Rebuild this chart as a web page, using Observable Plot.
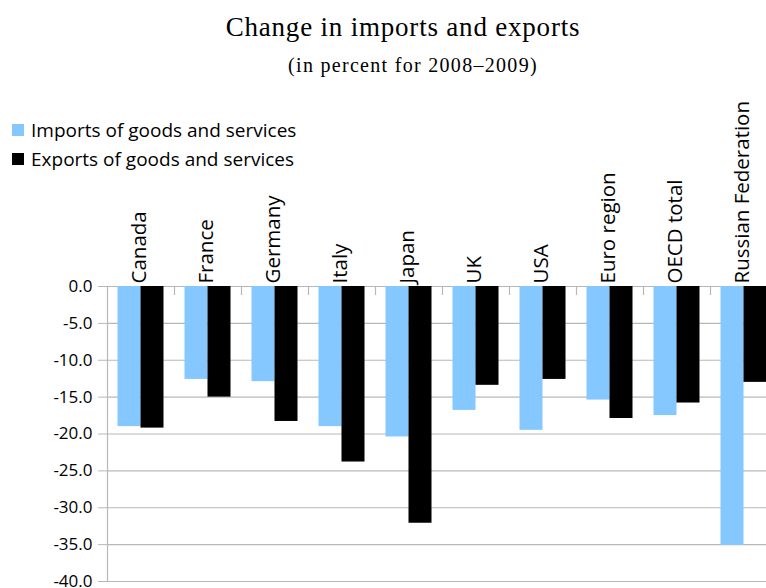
<!DOCTYPE html>
<html>
<head>
<meta charset="utf-8">
<script src="https://cdn.jsdelivr.net/npm/d3@7"></script>
<script src="https://cdn.jsdelivr.net/npm/@observablehq/plot@0.6"></script>
<style>
  html, body { margin: 0; padding: 0; background: #fff; overflow: hidden; }
  #wrap { position: relative; width: 766px; height: 588px; overflow: hidden; }
  .title { position: absolute; left: 0; width: 766px; text-align: center; font-family: "Liberation Serif", serif; color: #000; white-space: nowrap; box-sizing: border-box; }
  #t1 { top: 14px; font-size: 27px; line-height: 27px; letter-spacing: 0.8px; padding-left: 40px; }
  #t2 { top: 55px; font-size: 20px; line-height: 20px; letter-spacing: 1.3px; padding-left: 60px; }
  .leg { position: absolute; left: 12px; font-family: "Open Sans", sans-serif; font-size: 19px; line-height: 19px; color: #000; white-space: nowrap; }
  .leg .sw { position: absolute; left: 0; width: 12px; height: 12px; }
  .leg .lab { position: absolute; left: 19px; top: 0; }
  #chart { position: absolute; left: 0; top: 90px; }
  #chart svg { max-width: none !important; }
</style>
</head>
<body>
<div id="wrap">
  <div class="title" id="t1">Change in imports and exports</div>
  <div class="title" id="t2">(in percent for 2008–2009)</div>
  <div id="legend"></div>
  <div id="chart"></div>
</div>
<script>
const countries = ["Canada", "France", "Germany", "Italy", "Japan", "UK", "USA", "Euro region", "OECD total", "Russian Federation"];
const importsValues = [-19.0, -12.6, -12.9, -19.0, -20.4, -16.8, -19.5, -15.4, -17.5, -35.1];
const exportsValues = [-19.2, -15.0, -18.3, -23.8, -32.1, -13.4, -12.6, -17.9, -15.8, -13.0];
const yTicks = [0, -5, -10, -15, -20, -25, -30, -35, -40];
const seriesNames = ["Imports of goods and services", "Exports of goods and services"];
const seriesColors = ["#84c8ff", "#000000"];

const importsData = countries.map((c, i) => ({country: c, value: importsValues[i]}));
const exportsData = countries.map((c, i) => ({country: c, value: exportsValues[i]}));

// Legend
const legend = document.getElementById("legend");
const legTops = [121, 150];
seriesNames.forEach((name, i) => {
  const d = document.createElement("div");
  d.className = "leg";
  d.style.top = legTops[i] + "px";
  const sw = document.createElement("span");
  sw.className = "sw";
  sw.style.background = seriesColors[i];
  sw.style.top = "3px";
  const lab = document.createElement("span");
  lab.className = "lab";
  lab.textContent = name;
  d.appendChild(sw);
  d.appendChild(lab);
  legend.appendChild(d);
});

const grid = "#b8b8b8";
const chart = Plot.plot({
  width: 777,
  height: 498,
  marginTop: 196,
  marginBottom: 7,
  marginLeft: 107,
  marginRight: 0,
  style: {fontFamily: "'Open Sans', sans-serif", background: "transparent", overflow: "visible", maxWidth: "none"},
  x: {type: "band", domain: countries, padding: 0, axis: null},
  y: {domain: [-40, 0], axis: null},
  marks: [
    Plot.gridY(yTicks, {stroke: grid, strokeOpacity: 1, strokeWidth: 1.2}),
    Plot.frame({anchor: "left", stroke: grid, strokeWidth: 1.2}),
    Plot.axisY(yTicks, {tickSize: 9, tickPadding: 6, tickFormat: d => d.toFixed(1), stroke: grid, fill: "#000", fontSize: 17, label: null}),
    Plot.barY(importsData, {x: "country", y: "value", fill: seriesColors[0], insetLeft: 10.5, insetRight: 33.5}),
    Plot.barY(exportsData, {x: "country", y: "value", fill: seriesColors[1], insetLeft: 33.5, insetRight: 10.5}),
    Plot.ruleX(countries.slice(1), {x: d => d, dx: -33.5, insetBottom: 295 - 9, stroke: grid, strokeWidth: 1.2}),
    Plot.text(countries, {x: d => d, frameAnchor: "top", rotate: -90, textAnchor: "start", dx: -10, dy: -3, fontSize: 20.5, fill: "#000"})
  ]
});
document.getElementById("chart").appendChild(chart);
</script>
</body>
</html>
